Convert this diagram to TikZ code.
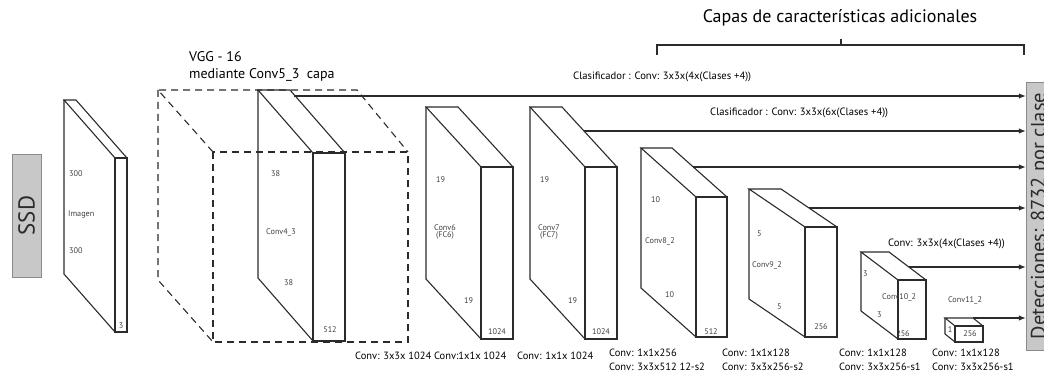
\documentclass[tikz,border=0pt]{standalone}
\usepackage{fontspec}
\setmainfont{PT Sans}
\usetikzlibrary{arrows.meta,positioning,calc}
\definecolor{boxgray}{HTML}{C8C8C8}
\definecolor{boxline}{HTML}{8A8A8A}
\definecolor{inkgray}{HTML}{2B2B2B}

% front face at (#2,#3), size #4 x #5, depth offset #6,#7
\newcommand{\layerbox}[7]{%
  \draw[cube] (#2,#3) rectangle ++(#4,#5);
  \draw[cube] (#2,#3) -- ++(-#6,-#7) -- ++(#4,0) -- ++(#6,#7);
  \draw[cube] (#2-#6,#3-#7) -- ++(0,#5) -- ++(#6,#7);
  \coordinate (#1) at (#2,#3);
}

\begin{document}
\begin{tikzpicture}[x=1pt, y=-1pt,
  cube/.style={draw=inkgray, line width=1.1pt},
  dashcube/.style={draw=inkgray, line width=1.1pt, dash pattern=on 7pt off 5pt},
  arr/.style={-{Latex[length=7pt,width=5.5pt]}, line width=1.1pt, inkgray},
  dimtext/.style={font=\fontsize{8.2}{7.5}\selectfont, text=black!75, inner sep=0pt, align=center},
  clstext/.style={font=\fontsize{10.6}{12}\selectfont, inner sep=0pt, anchor=west},
  botlabel/.style={font=\fontsize{10.5}{14}\selectfont, inner sep=0pt, anchor=west},
  sidebox/.style={draw=boxline, fill=boxgray, rotate=90, inner sep=0pt, text=inkgray}
]
  \useasboundingbox (0,0) rectangle (1044,377);
  \clip (0,0) rectangle (1044,377);

  % side boxes
  \node[sidebox, minimum width=123pt, minimum height=29pt, font=\fontsize{23}{23}\selectfont] (ssd) at (26.5,215.5) {SSD};
  \node[sidebox, minimum width=268pt, minimum height=28pt, font=\fontsize{20.5}{20}\selectfont] (det) at (1040,216) {Detecciones: 8732 por clase};

  % VGG-16 part
  \draw[dashcube] (213,152) rectangle (408,342);
  \draw[dashcube] (213,152) -- (158,90) -- (357,90) -- (408,152);
  \draw[dashcube] (158,90) -- (158,280) -- (213,342);
  \node[font=\fontsize{14}{16}\selectfont, anchor=west, inner sep=0pt] (vgg) at (189,57) {VGG - 16};
  \node[font=\fontsize{14}{16}\selectfont, anchor=west, inner sep=0pt] (vggsub) at (189,75) {mediante Conv5\_3\ \ capa};

  % layers
  \layerbox{img}{115}{158}{12}{174}{51}{58}
  \layerbox{c43}{313}{153}{32}{188}{55}{63}
  \layerbox{c6}{481}{167}{32}{172}{55}{60}
  \layerbox{c7}{585}{167}{32}{172}{55}{60}
  \layerbox{c82}{696}{197}{31}{140}{55}{49}
  \layerbox{c92}{805}{227}{32}{110}{56}{38}
  \layerbox{c102}{898}{280}{28}{59}{37}{28}
  \layerbox{c112}{955}{326}{28}{16}{10}{8}

  % sizes
  \node[dimtext, anchor=west] (img-a) at (69,174) {300};
  \node[dimtext, anchor=west] (img-n) at (68,214) {Imagen};
  \node[dimtext, anchor=west] (img-b) at (69,251) {300};
  \node[dimtext] (img-d) at (121,326) {3};
  \node[dimtext, anchor=west] (c43-a) at (271,174) {38};
  \node[dimtext, anchor=west] (c43-n) at (266,232) {Conv4\_3};
  \node[dimtext, anchor=west] (c43-b) at (284,283) {38};
  \node[dimtext] (c43-d) at (330,330) {512};
  \node[dimtext, anchor=west] (c6-a) at (436,180) {19};
  \node[dimtext] (c6-n) at (445,232) {Conv6\\(FC6)};
  \node[dimtext, anchor=west] (c6-b) at (464,301) {19};
  \node[dimtext] (c6-d) at (497,332) {1024};
  \node[dimtext, anchor=west] (c7-a) at (540,180) {19};
  \node[dimtext] (c7-n) at (549,232) {Conv7\\(FC7)};
  \node[dimtext, anchor=west] (c7-b) at (568,301) {19};
  \node[dimtext] (c7-d) at (601,332) {1024};
  \node[dimtext, anchor=west] (c82-a) at (651,200) {10};
  \node[dimtext, anchor=west] (c82-n) at (645,241) {Conv8\_2};
  \node[dimtext, anchor=west] (c82-b) at (665,295) {10};
  \node[dimtext] (c82-d) at (711,332) {512};
  \node[dimtext, anchor=west] (c92-a) at (757,234) {5};
  \node[dimtext, anchor=west] (c92-n) at (752,265) {Conv9\_2};
  \node[dimtext, anchor=west] (c92-b) at (777,307) {5};
  \node[dimtext] (c92-d) at (821,327) {256};
  \node[dimtext, anchor=west] (c102-a) at (863,274) {3};
  \node[dimtext, anchor=west] (c102-n) at (882,297) {Conv10\_2};
  \node[dimtext, anchor=west] (c102-b) at (877,315) {3};
  \node[dimtext] (c102-d) at (903,334) {256};
  \node[dimtext] (c112-n) at (965,300) {Conv11\_2};
  \node[dimtext] (c112-a) at (950,330) {1};
  \node[dimtext] (c112-d) at (970,334) {256};

  % classifier outputs
  \coordinate (o43) at (294,96);
  \coordinate (o7) at (584,131);
  \coordinate (o82) at (693,167);
  \coordinate (o92) at (809,208);
  \coordinate (o102) at (909,267);
  \coordinate (o112) at (973,318);
  \foreach \src in {o43,o7,o82,o92,o102,o112}
    \draw[arr] (\src) -- (\src -| det.north);
  \node[clstext] (cls1) at (573,77) {Clasificador : Conv: 3x3x(4x(Clases +4))};
  \node[clstext] (cls2) at (710,113) {Clasificador : Conv: 3x3x(6x(Clases +4))};
  \node[clstext] (cls3) at (888,244) {Conv: 3x3x(4x(Clases +4))};

  % extra feature layers bracket
  \node[font=\fontsize{18}{20}\selectfont, inner sep=0pt] (extra) at (840,18) {Capas de características adicionales};
  \draw[cube, line width=1.3pt] (657,55) -- (657,45) -- (1024,45) -- (1024,55);
  \draw[cube, line width=1.3pt] (841,45) -- (841,39);

  % layer ops
  \node[botlabel] (op6) at (355,356) {Conv: 3x3x 1024 Conv:1x1x 1024};
  \node[botlabel] (op7) at (517,356) {Conv: 1x1x 1024};
  \node[botlabel, align=left, anchor=north west] (op82) at (609,349) {Conv: 1x1x256\\Conv: 3x3x512 12-s2};
  \node[botlabel, align=left, anchor=north west] (op92) at (722,349) {Conv: 1x1x128\\Conv: 3x3x256-s2};
  \node[botlabel, align=left, anchor=north west] (op102) at (839,349) {Conv: 1x1x128\\Conv: 3x3x256-s1};
  \node[botlabel, align=left, anchor=north west] (op112) at (932,349) {Conv: 1x1x128\\Conv: 3x3x256-s1};
\end{tikzpicture}
\end{document}
